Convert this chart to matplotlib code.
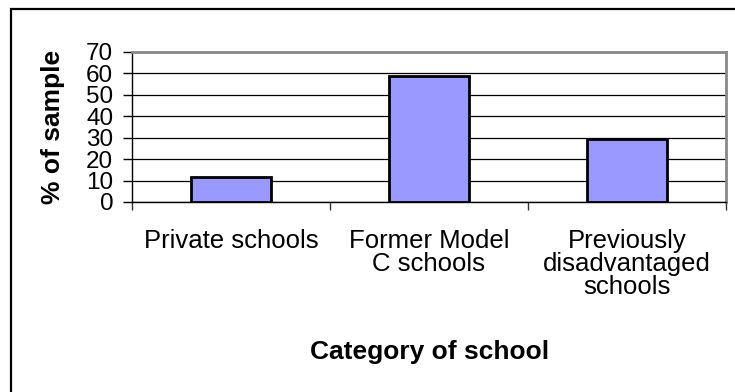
import matplotlib
matplotlib.use("Agg")
import matplotlib.pyplot as plt
from matplotlib.patches import Rectangle
from matplotlib.ticker import FixedLocator

categories = ["Private schools", "Former Model\nC schools", "Previously\ndisadvantaged\nschools"]
values = [11.8, 58.8, 29.4]
y_ticks = [0, 10, 20, 30, 40, 50, 60, 70]

plt.rcParams["font.family"] = ["Liberation Sans", "DejaVu Sans"]

W, H = 735, 392
fig = plt.figure(figsize=(W / 100, H / 100), dpi=100)
fig.patch.set_facecolor("white")

# outer chart border (open towards the right and bottom edges)
fig.patches.append(Rectangle((11 / W, -0.05), 1.2, (H - 9) / H + 0.05,
                             transform=fig.transFigure, fill=False,
                             edgecolor="black", linewidth=1.6, zorder=0))

ax = fig.add_axes([132 / W, 190 / H, 594 / W, 150 / H])
x = list(range(len(categories)))
ax.bar(x, values, width=0.4, color="#9999FF", edgecolor="black", linewidth=2, zorder=3)

ax.set_xlim(-0.5, len(categories) - 0.5)
ax.set_ylim(0, 70)
ax.set_yticks(y_ticks)
ax.set_yticklabels([str(v) for v in y_ticks], fontsize=17.5)
ax.yaxis.grid(True, color="black", linewidth=0.9)
ax.set_axisbelow(True)

ax.set_xticks(x)
ax.set_xticklabels(categories, fontsize=18.5, linespacing=0.95, va="top")
ax.tick_params(axis="x", which="major", length=0, pad=19.5)
ax.xaxis.set_minor_locator(FixedLocator([-0.5, 0.5, 1.5, 2.5]))
ax.tick_params(axis="x", which="minor", length=6, width=1, color="#333333", direction="out")
ax.tick_params(axis="y", length=6.5, width=1, direction="out", pad=7)

for side in ("left", "bottom"):
    ax.spines[side].set_color("black")
    ax.spines[side].set_linewidth(1)
for side in ("top", "right"):
    ax.spines[side].set_color("#888888")
    ax.spines[side].set_linewidth(2)

fig.text(53 / W, 1 - 126.5 / H, "% of sample", fontsize=19, fontweight="bold",
         rotation=90, ha="center", va="center")
fig.text(429.5 / W, 1 - 352 / H, "Category of school", fontsize=19, fontweight="bold",
         ha="center", va="center")

fig.savefig("out.png", dpi=100)
